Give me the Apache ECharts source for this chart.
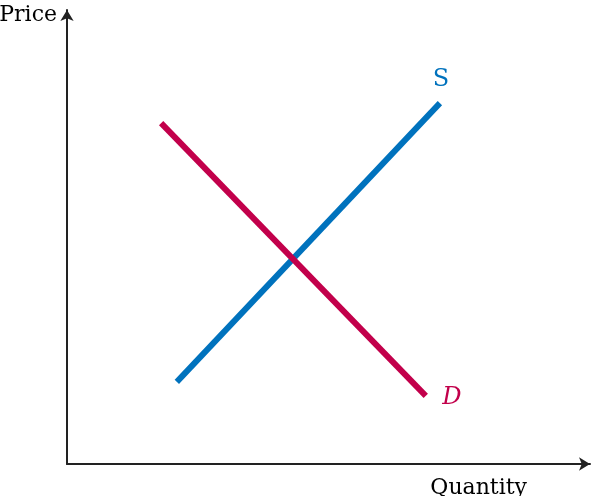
<!DOCTYPE html>
<html><head><meta charset="utf-8">
<script src="https://cdn.jsdelivr.net/npm/echarts@6/dist/echarts.min.js"></script>
<style>html,body{margin:0;padding:0;background:#fff}#c{width:594px;height:496px}</style>
</head><body><div id="c"></div>
<script>
// Data (axis units 0..10)
const supplyName = 'S';
const demandName = 'D';
const supplyX = [2.10, 7.13];
const supplyY = [1.81, 7.95];
const demandX = [1.80, 6.86];
const demandY = [7.51, 1.50];
const xTitle = 'Quantity';
const yTitle = 'Price';

const zip = (xs, ys) => xs.map((x, i) => [x, ys[i]]);
const serif = 'DejaVu Serif';
const chart = echarts.init(document.getElementById('c'));
chart.setOption({
  animation: false,
  grid: {left: 67, right: 4, top: 10, bottom: 32, containLabel: false, outerBoundsMode: 'none'},
  xAxis: {
    type: 'value', min: 0, max: 10,
    axisLine: {lineStyle: {color: '#222', width: 2}, symbol: ['none', 'arrow'], symbolSize: [10, 11]},
    axisTick: {show: false}, axisLabel: {show: false}, splitLine: {show: false},
    name: xTitle, nameLocation: 'end', nameGap: 0,
    nameTextStyle: {fontFamily: serif, fontSize: 22, color: '#000', align: 'right', verticalAlign: 'top', padding: [13, 63, 0, 0]}
  },
  yAxis: {
    type: 'value', min: 0, max: 10,
    axisLine: {lineStyle: {color: '#222', width: 2}, symbol: ['none', 'arrow'], symbolSize: [10, 11]},
    axisTick: {show: false}, axisLabel: {show: false}, splitLine: {show: false},
    name: yTitle, nameLocation: 'end', nameGap: -5,
    nameTextStyle: {fontFamily: serif, fontSize: 22, color: '#000', align: 'right', verticalAlign: 'middle', padding: [0, 10, 0, 0]}
  },
  series: [
    {type: 'line', data: zip(supplyX, supplyY), showSymbol: false, silent: true,
     lineStyle: {color: '#0072BD', width: 6, cap: 'butt'},
     endLabel: {show: true, formatter: supplyName, distance: 0, align: 'center', verticalAlign: 'middle', offset: [1, -23],
       fontFamily: serif, fontSize: 24, color: '#0072BD'}},
    {type: 'line', data: zip(demandX, demandY), showSymbol: false, silent: true,
     lineStyle: {color: '#C2004B', width: 6, cap: 'butt'},
     endLabel: {show: true, formatter: demandName, distance: 0, align: 'center', verticalAlign: 'middle', offset: [26, 2],
       fontFamily: serif, fontStyle: 'italic', fontSize: 24, color: '#C2004B'}}
  ]
});
</script></body></html>
